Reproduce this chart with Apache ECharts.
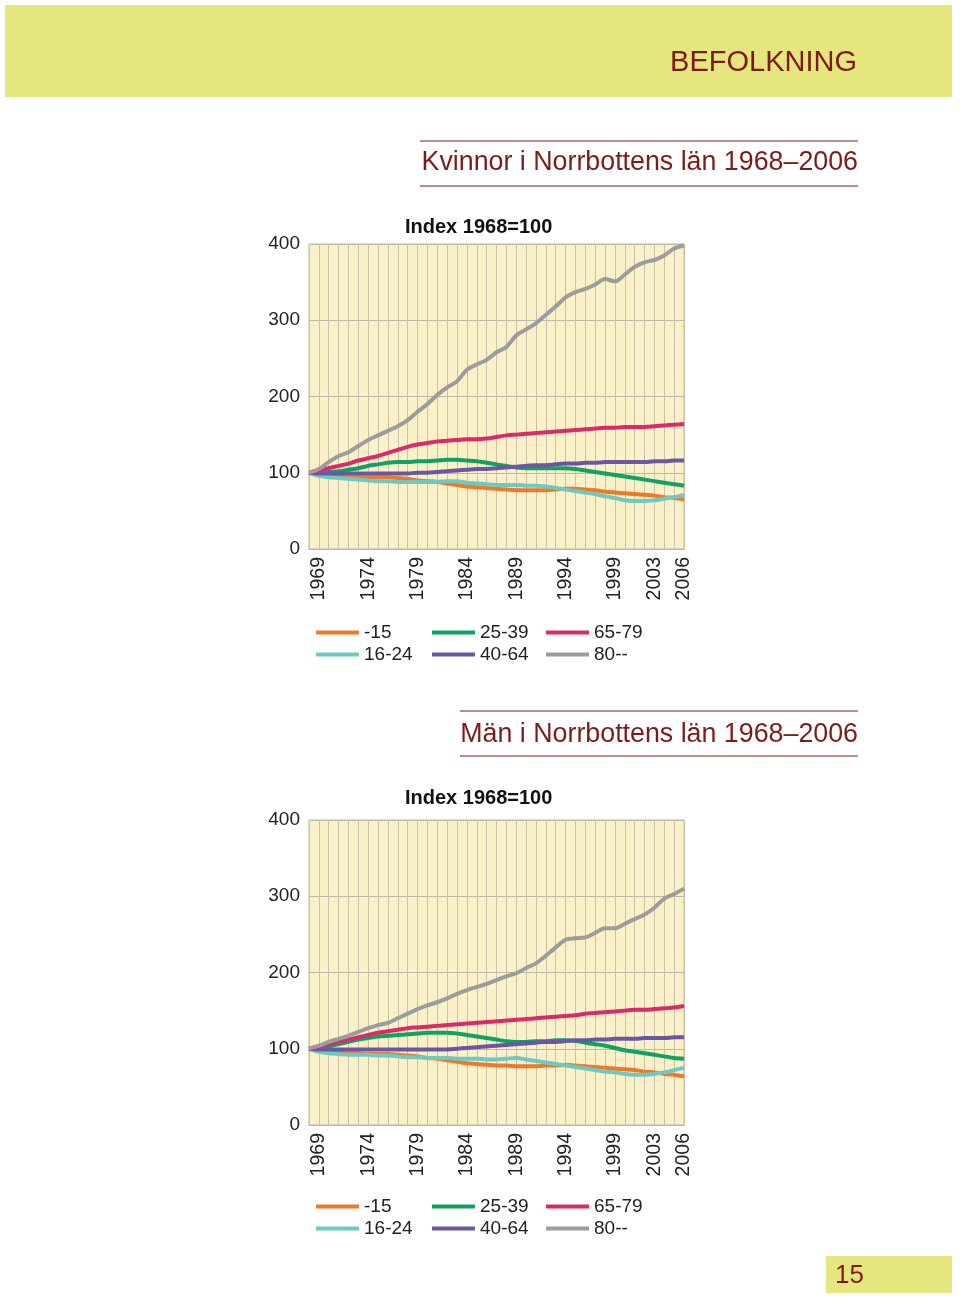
<!DOCTYPE html>
<html>
<head>
<meta charset="utf-8">
<script src="https://cdn.jsdelivr.net/npm/echarts@6/dist/echarts.min.js"></script>
<style>
html,body{margin:0;padding:0;background:#fff;}
#c{width:960px;height:1300px;}
</style>
</head>
<body>
<div id="c"></div>
<script>
const years = [];
for (let y = 1968; y <= 2006; y++) years.push(String(y));
const shownYears = ['1969','1974','1979','1984','1989','1994','1999','2003','2006'];
const seriesNames = ['-15','16-24','25-39','40-64','65-79','80--'];
const yTicks = [0,100,200,300,400];

// Kvinnor (women)
const w_u15   = [100,97,95,95,94,94,94,94,94,93,92,90,89,88,86,84,82,81,80,79,78,77,77,77,77,78,79,79,78,77,75,74,73,72,71,70,68,67,65];
const w_16_24 = [100,96,94,93,92,91,90,89,89,88,88,88,88,88,89,89,87,86,85,84,84,84,83,83,82,80,78,76,74,72,69,67,64,63,63,64,66,68,71];
const w_25_39 = [100,100,101,102,104,106,109,111,113,114,114,115,115,116,117,117,116,115,113,111,109,107,106,106,106,106,106,105,103,101,99,97,95,93,91,89,87,85,83];
const w_40_64 = [100,99,99,99,99,99,99,99,99,99,99,100,100,101,102,103,104,105,105,106,107,108,109,110,110,111,112,112,113,113,114,114,114,114,114,115,115,116,116];
const w_65_79 = [100,103,106,109,112,116,119,122,126,130,134,137,139,141,142,143,144,144,145,147,149,150,151,152,153,154,155,156,157,158,159,159,160,160,160,161,162,163,164];
const w_80    = [100,105,114,122,127,135,143,149,155,161,169,180,190,202,212,220,235,242,248,258,265,280,288,296,307,318,330,337,341,347,354,351,360,370,376,379,385,394,398];

// Män (men)
const m_u15   = [100,97,95,95,94,94,93,93,93,92,91,90,88,87,85,83,81,80,79,78,78,77,77,77,78,78,79,78,77,76,75,74,73,72,70,69,67,66,64];
const m_16_24 = [100,96,94,93,92,92,92,91,91,90,89,89,88,88,88,87,87,87,86,86,87,88,86,84,82,80,78,76,74,72,70,69,67,66,66,67,69,72,75];
const m_25_39 = [100,101,103,106,109,112,114,116,117,118,119,120,121,121,121,120,118,116,114,112,110,109,109,110,110,111,111,110,108,106,104,101,98,96,94,92,90,88,87];
const m_40_64 = [100,99,99,99,99,99,99,99,99,99,99,99,99,99,99,100,101,102,103,104,105,106,107,108,109,109,110,111,111,112,112,113,113,113,114,114,114,115,115];
const m_65_79 = [100,103,106,109,112,115,118,121,123,125,127,128,129,130,131,132,133,134,135,136,137,138,139,140,141,142,143,144,146,147,148,149,150,151,151,152,153,154,156];
const m_80    = [100,104,109,113,117,122,127,131,134,140,146,152,157,161,166,172,177,181,185,190,195,199,206,212,222,233,243,245,246,252,258,258,264,270,276,285,297,303,310];

const womenData = [w_u15, w_16_24, w_25_39, w_40_64, w_65_79, w_80];
const menData = [m_u15, m_16_24, m_25_39, m_40_64, m_65_79, m_80];
const colors = ['#ec7a2a','#6ec9c2','#10a262','#6a56a2','#d92a6a','#9c9c9c'];

const FONT = '"Liberation Sans", Arial, Helvetica, sans-serif';
const DARKRED = '#7d1b1b';

function grid(top, bottom) {
  return {left: 309, right: 276, top: top, bottom: bottom, show: true,
    backgroundColor: '#fbf1c9', borderColor: '#bdb8a8', borderWidth: 1, containLabel: false};
}
function xAxis(gi) {
  return {type: 'category', gridIndex: gi, data: years, boundaryGap: false,
    axisLine: {show: true, lineStyle: {color: '#bdb8a8'}},
    axisTick: {show: false},
    splitLine: {show: true, interval: 0, lineStyle: {color: '#c9c3ad', width: 1}},
    axisLabel: {rotate: 90, margin: 8, fontFamily: FONT, fontSize: 19.5, color: '#222',
      interval: function(i, v){ return shownYears.indexOf(v) >= 0; }}
  };
}
function yAxis(gi) {
  return {type: 'value', gridIndex: gi, min: 0, max: 400, interval: 100,
    axisLine: {show: false}, axisTick: {show: false},
    splitLine: {show: true, lineStyle: {color: '#bdb8a8', width: 1}},
    axisLabel: {margin: 9, fontFamily: FONT, fontSize: 19, color: '#222'}
  };
}
function seriesFor(data, gi) {
  return seriesNames.map((n, i) => ({
    name: n, type: 'line', xAxisIndex: gi, yAxisIndex: gi, data: data[i],
    showSymbol: false, symbol: 'none', smooth: 0.3,
    lineStyle: {width: 4, color: colors[i]}, itemStyle: {color: colors[i]},
    z: 2 + i
  }));
}
function legends(top) {
  const cols = [[0,1],[2,3],[4,5]];
  const lefts = [316, 432, 546];
  return cols.map((c, k) => ({
    orient: 'vertical', left: lefts[k], top: top, itemGap: 3, padding: 0,
    itemWidth: 43, itemHeight: 4, icon: 'rect', selectedMode: false,
    textStyle: {fontFamily: FONT, fontSize: 19, color: '#222', padding: [0,0,0,0]},
    data: c.map(i => seriesNames[i])
  }));
}

const chart = echarts.init(document.getElementById('c'), null, {renderer: 'canvas'});
chart.setOption({
  animation: false,
  backgroundColor: '#ffffff',
  grid: [grid(244, 751), grid(820, 175)],
  xAxis: [xAxis(0), xAxis(1)],
  yAxis: [yAxis(0), yAxis(1)],
  legend: legends(623).concat(legends(1197)),
  series: seriesFor(womenData, 0).concat(seriesFor(menData, 1)),
  graphic: [
    {type: 'rect', shape: {x: 5, y: 5, width: 947, height: 92}, style: {fill: '#e6e67f'}},
    {type: 'text', style: {text: 'BEFOLKNING', x: 857, y: 63, textAlign: 'right', textVerticalAlign: 'middle',
      font: '29px ' + FONT, fill: DARKRED}},
    {type: 'line', shape: {x1: 420, y1: 141, x2: 858, y2: 141}, style: {stroke: DARKRED, lineWidth: 1}},
    {type: 'text', style: {text: 'Kvinnor i Norrbottens län 1968–2006', x: 858, y: 163, textAlign: 'right', textVerticalAlign: 'middle',
      font: '26.8px ' + FONT, fill: DARKRED}},
    {type: 'line', shape: {x1: 420, y1: 186, x2: 858, y2: 186}, style: {stroke: DARKRED, lineWidth: 1}},
    {type: 'text', style: {text: 'Index 1968=100', x: 405, y: 227, textAlign: 'left', textVerticalAlign: 'middle',
      font: 'bold 20px ' + FONT, fill: '#111'}},
    {type: 'line', shape: {x1: 460, y1: 711, x2: 858, y2: 711}, style: {stroke: DARKRED, lineWidth: 1}},
    {type: 'text', style: {text: 'Män i Norrbottens län 1968–2006', x: 858, y: 735, textAlign: 'right', textVerticalAlign: 'middle',
      font: '26.8px ' + FONT, fill: DARKRED}},
    {type: 'line', shape: {x1: 460, y1: 756, x2: 858, y2: 756}, style: {stroke: DARKRED, lineWidth: 1}},
    {type: 'text', style: {text: 'Index 1968=100', x: 405, y: 798, textAlign: 'left', textVerticalAlign: 'middle',
      font: 'bold 20px ' + FONT, fill: '#111'}},
    {type: 'rect', shape: {x: 826, y: 1256, width: 126, height: 37}, style: {fill: '#e6e67f'}},
    {type: 'text', style: {text: '15', x: 835, y: 1276, textAlign: 'left', textVerticalAlign: 'middle',
      font: '26px ' + FONT, fill: DARKRED}}
  ]
});
</script>
</body>
</html>
